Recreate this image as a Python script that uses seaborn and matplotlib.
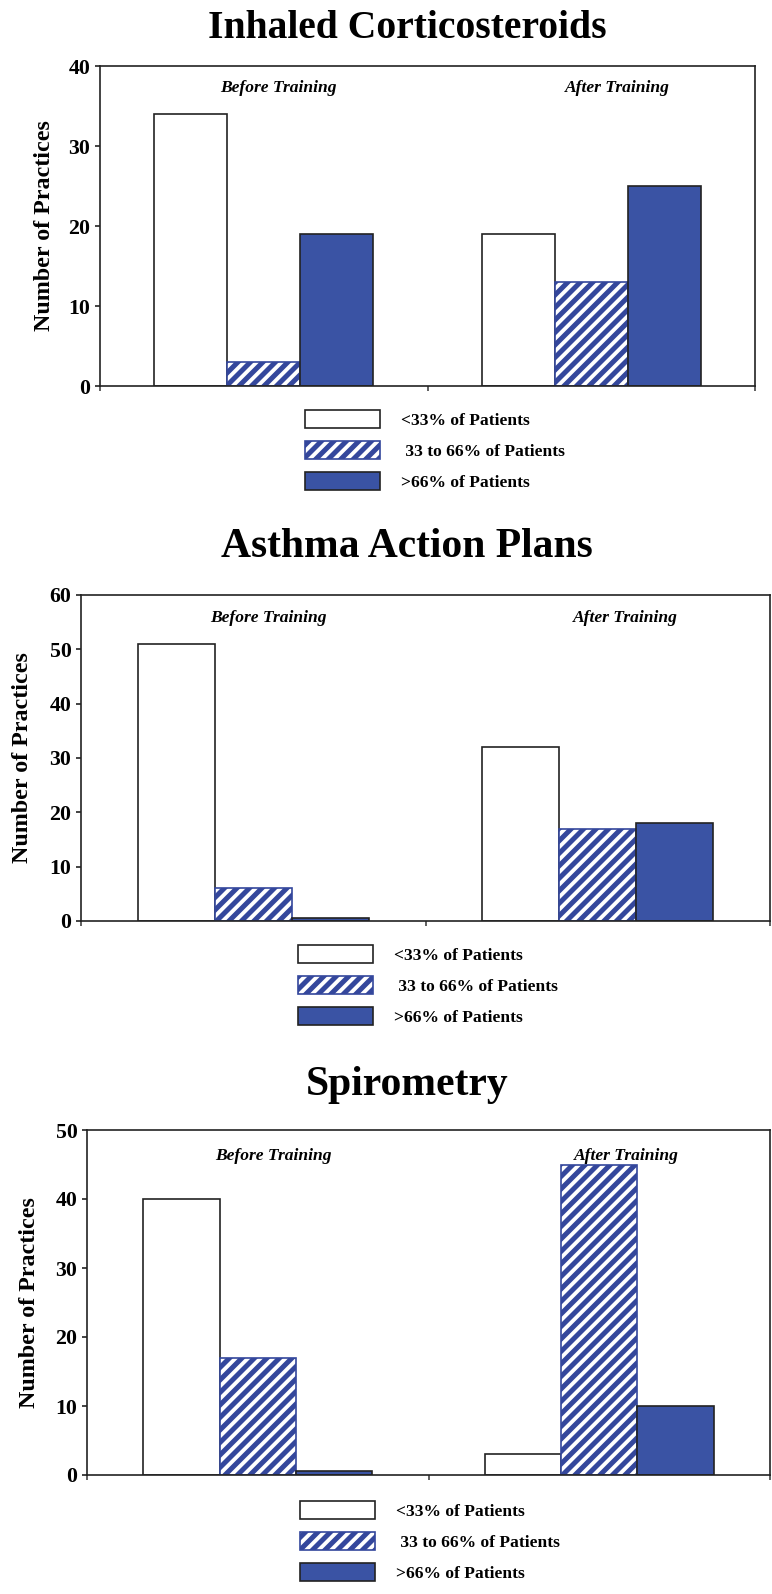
import matplotlib
matplotlib.use("Agg")
import matplotlib.pyplot as plt
from matplotlib.patches import Patch
import seaborn as sns
import pandas as pd

# data
periods = ["Before Training", "After Training"]
levels = ["<33% of Patients", " 33 to 66% of Patients", ">66% of Patients"]

titles = ["Inhaled Corticosteroids", "Asthma Action Plans", "Spirometry"]
ymaxes = [40, 60, 50]
ysteps = [10, 10, 10]

ics_before = [34, 3, 19]
ics_after = [19, 13, 25]
aap_before = [51, 6, 0.5]
aap_after = [32, 17, 18]
spiro_before = [40, 17, 0.6]
spiro_after = [3, 45, 10]

panel_values = [(ics_before, ics_after), (aap_before, aap_after), (spiro_before, spiro_after)]

# styling
white = "#ffffff"
hatch_blue = "#34479c"
solid_blue = "#3a53a4"

DPI = 150
W, H = 772, 1594

sns.set_theme(style="ticks")
plt.rcParams["font.family"] = ["Liberation Serif", "DejaVu Serif"]
plt.rcParams["font.weight"] = "bold"
plt.rcParams["hatch.linewidth"] = 2.4
plt.rcParams["axes.linewidth"] = 0.8
plt.rcParams["text.color"] = "black"
plt.rcParams["axes.labelcolor"] = "black"
plt.rcParams["ytick.labelcolor"] = "black"

fig = plt.figure(figsize=(W / DPI, H / DPI), dpi=DPI)

# axes boxes in pixels: left, right, top, bottom
boxes = [(100, 755, 66, 386), (81, 770, 595, 921), (87, 770, 1130, 1475)]
title_y = [28, 547, 1085]
title_size = [19, 20, 20]
legend_pos = [(305, 410), (298, 945), (300, 1501)]
label_y = [0.931, 0.929, 0.925]

for i in range(3):
    l, r, t, b = boxes[i]
    ax = fig.add_axes([l / W, 1 - b / H, (r - l) / W, (b - t) / H])

    before, after = panel_values[i]
    df = pd.DataFrame({
        "period": [periods[0]] * 3 + [periods[1]] * 3,
        "level": levels * 2,
        "count": before + after,
    })
    sns.barplot(data=df, x="period", y="count", hue="level", order=periods,
                hue_order=levels, palette=[white, white, solid_blue],
                width=0.67, ax=ax, legend=False, saturation=1)

    for j, cont in enumerate(ax.containers):
        for bar in cont:
            if j == 1:
                bar.set_hatch("////")
                bar.set_edgecolor(hatch_blue)
                bar.set_linewidth(0.8)
            else:
                bar.set_edgecolor("#222222")
                bar.set_linewidth(0.8)

    ax.set_xlim(-0.5, 1.5)
    ax.set_ylim(0, ymaxes[i])
    ax.set_yticks(range(0, ymaxes[i] + 1, ysteps[i]))
    ax.set_xticks([-0.5, 0.5, 1.5])
    ax.set_xticklabels([])
    ax.set_xlabel("")
    ax.set_ylabel("Number of Practices", fontsize=11.5, fontweight="bold")
    ax.yaxis.set_label_coords(-0.069, 0.5)
    ax.tick_params(axis="y", labelsize=10.5, length=2.6, width=0.8, pad=2, color="#222222")
    ax.tick_params(axis="x", length=2.6, width=0.8, color="#444444")
    for s in ax.spines.values():
        s.set_visible(True)
        s.set_color("#222222")

    # "Before/After Training" labels near top of each group
    trans = ax.get_xaxis_transform()
    ax.text(0.045, label_y[i], periods[0], transform=trans, ha="center", va="center",
            fontsize=8.4, fontstyle="italic", fontweight="bold")
    ax.text(1.08, label_y[i], periods[1], transform=trans, ha="center", va="center",
            fontsize=8.4, fontstyle="italic", fontweight="bold")

    fig.text(407 / W, 1 - title_y[i] / H, titles[i], ha="center", va="center",
             fontsize=title_size[i], fontweight="bold")

    handles = [
        Patch(facecolor=white, edgecolor="#222222", linewidth=0.8, label=levels[0]),
        Patch(facecolor=white, edgecolor=hatch_blue, hatch="////", linewidth=0.8, label=levels[1]),
        Patch(facecolor=solid_blue, edgecolor="#222222", linewidth=0.8, label=levels[2]),
    ]
    lx, ly = legend_pos[i]
    ax.legend(handles=handles, loc="upper left", bbox_to_anchor=(lx / W, 1 - ly / H),
              bbox_transform=fig.transFigure, frameon=False, borderpad=0,
              borderaxespad=0, handlelength=4.3, handleheight=1.2,
              handletextpad=1.2, labelspacing=0.7, prop={"size": 8.4, "weight": "bold"})

fig.savefig("out.png", dpi=DPI)
